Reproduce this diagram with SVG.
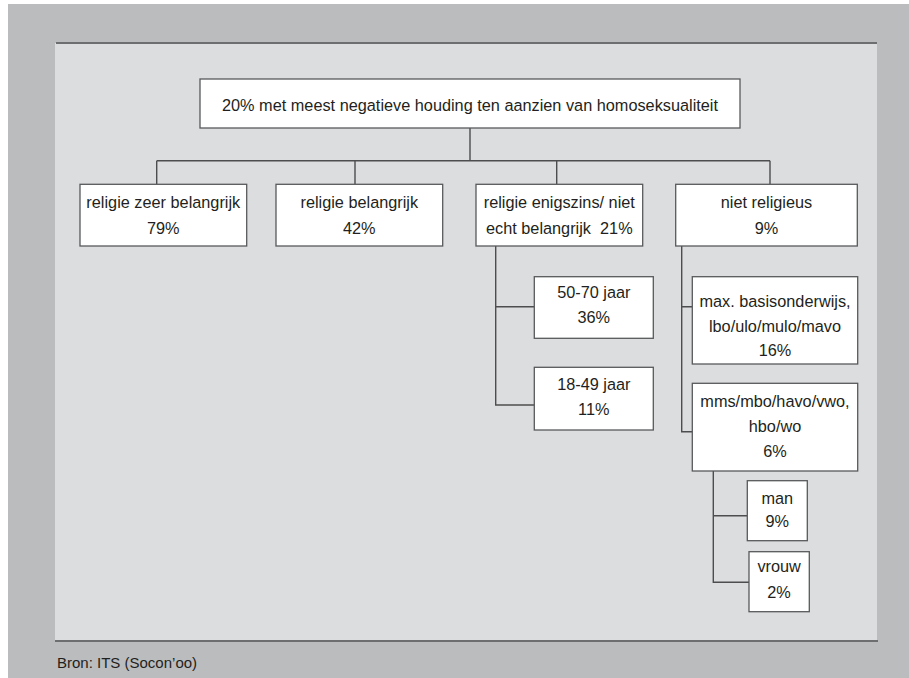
<svg xmlns="http://www.w3.org/2000/svg" width="909" height="678" viewBox="0 0 909 678">
<style>
.box{fill:#ffffff;stroke:#58595b;stroke-width:1.3}
.t{font-family:"Liberation Sans",Arial,sans-serif;font-size:16.3px;fill:#231f20;text-anchor:middle}
.conn{fill:none;stroke:#4d4d4f;stroke-width:1.4}
.rule{stroke:#6d6e70;stroke-width:2.2}
</style>
<rect x="0" y="0" width="909" height="678" fill="#ffffff"/>
<rect x="8" y="4" width="901" height="674" fill="#bbbcbe"/>
<rect x="55" y="43" width="822" height="598" fill="#dcdddf"/>
<line class="rule" x1="56" y1="43" x2="877" y2="43"/>
<line class="rule" x1="55" y1="641" x2="878" y2="641"/>

<g id="connectors">
<path class="conn" d="M470,128 V160.7 M156.7,160.7 H770 M156.7,160.7 V184.3 M355,160.7 V184.3 M556.7,160.7 V184.3 M770,160.7 V184.3"/>
<path class="conn" d="M495.7,246 V405 H534.3 M495.7,306.7 H534.3"/>
<path class="conn" d="M681.7,246 V431.7 H692.3 M681.7,306.7 H692.3"/>
<path class="conn" d="M713.3,471 V582.3 H749 M713.3,515.7 H747.3"/>
</g>

<g id="root">
<rect class="box" x="200" y="79" width="540" height="49"/>
<text class="t" x="470" y="111">20% met meest negatieve houding ten aanzien van homoseksualiteit</text>
</g>
<g id="zeer">
<rect class="box" x="80" y="184.3" width="166.7" height="61.7"/>
<text class="t" x="163.3" y="208">religie zeer belangrijk</text>
<text class="t" x="163.3" y="234">79%</text>
</g>
<g id="belangrijk">
<rect class="box" x="276" y="184.3" width="166.7" height="61.7"/>
<text class="t" x="359.3" y="208">religie belangrijk</text>
<text class="t" x="359.3" y="234">42%</text>
</g>
<g id="enigszins">
<rect class="box" x="476" y="184.3" width="166.7" height="61.7"/>
<text class="t" x="559.3" y="208">religie enigszins/ niet</text>
<text class="t" x="559.3" y="234">echt belangrijk&#160; 21%</text>
</g>
<g id="nietreligieus">
<rect class="box" x="675.7" y="184.3" width="181.6" height="61.7"/>
<text class="t" x="766.5" y="208">niet religieus</text>
<text class="t" x="766.5" y="234">9%</text>
</g>
<g id="jaar5070">
<rect class="box" x="534.3" y="276.7" width="119" height="61.6"/>
<text class="t" x="593.8" y="298">50-70 jaar</text>
<text class="t" x="593.8" y="323">36%</text>
</g>
<g id="jaar1849">
<rect class="box" x="534.3" y="367.3" width="119" height="62.7"/>
<text class="t" x="593.8" y="390">18-49 jaar</text>
<text class="t" x="593.8" y="415">11%</text>
</g>
<g id="basis">
<rect class="box" x="692.3" y="276.7" width="165.4" height="87.3"/>
<text class="t" x="775" y="307">max. basisonderwijs,</text>
<text class="t" x="775" y="332">lbo/ulo/mulo/mavo</text>
<text class="t" x="775" y="356">16%</text>
</g>
<g id="mms">
<rect class="box" x="692.3" y="383.3" width="165.4" height="87.7"/>
<text class="t" x="775" y="407">mms/mbo/havo/vwo,</text>
<text class="t" x="775" y="432">hbo/wo</text>
<text class="t" x="775" y="457">6%</text>
</g>
<g id="man">
<rect class="box" x="747.3" y="480.7" width="60" height="60"/>
<text class="t" x="777.3" y="503.5">man</text>
<text class="t" x="777.3" y="527">9%</text>
</g>
<g id="vrouw">
<rect class="box" x="749" y="551.7" width="60.3" height="60"/>
<text class="t" x="779.1" y="572">vrouw</text>
<text class="t" x="779.1" y="598">2%</text>
</g>
<text x="57" y="668" font-family="'Liberation Sans',Arial,sans-serif" font-size="15px" fill="#231f20">Bron: ITS (Socon’oo)</text>
</svg>
